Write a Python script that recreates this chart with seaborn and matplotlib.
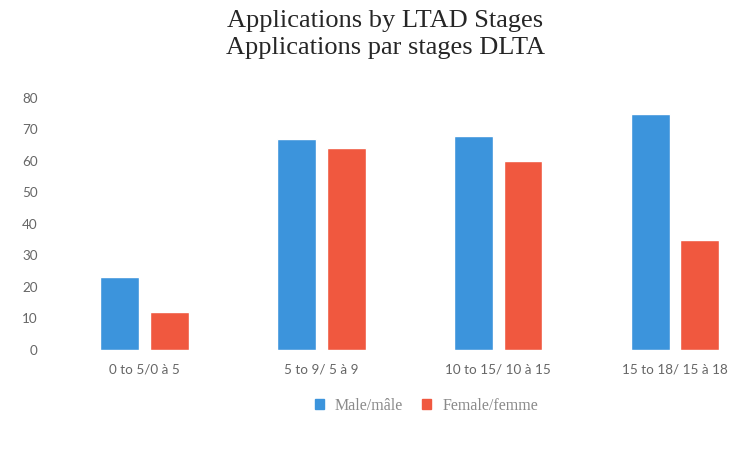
import pandas as pd
import seaborn as sns
import matplotlib.pyplot as plt

# Data
stages = ['0 to 5/0 à 5', '5 to 9/ 5 à 9', '10 to 15/ 10 à 15', '15 to 18/ 15 à 18']
male = [23, 67, 68, 75]
female = [12, 64, 60, 35]
series = ['Male/mâle', 'Female/femme']

df = pd.DataFrame({
    'stage': stages * 2,
    'count': male + female,
    'sex': [series[0]] * len(stages) + [series[1]] * len(stages),
})

sns.set_style('white')
plt.rcParams['font.family'] = ['Lato', 'DejaVu Sans']

fig = plt.figure(figsize=(7.44, 4.51), dpi=100)
ax = fig.add_axes([0.075, 0.224, 0.925, 0.559])

sns.barplot(data=df, x='stage', y='count', hue='sex', order=stages,
            palette=['#3C94DC', '#F0583F'], width=0.564, gap=0.22,
            saturation=1, legend=False, ax=ax)

ax.set_ylim(0, 80)
ax.set_yticks(range(0, 81, 10))
ax.set_xlim(-0.5, 3.39)
ax.set_xlabel('')
ax.set_ylabel('')
sns.despine(ax=ax, left=True, bottom=True)
ax.tick_params(axis='both', length=0, labelsize=9.7, labelcolor='#666666')
ax.tick_params(axis='y', pad=13)
ax.tick_params(axis='x', pad=10)

fig.text(0.518, 0.924, 'Applications by LTAD Stages\nApplications par stages DLTA',
         ha='center', va='center', fontsize=19, family='Liberation Serif',
         linespacing=1.32)

handles = [plt.Rectangle((0, 0), 1, 1, color=c) for c in ['#3C94DC', '#F0583F']]
fig.legend(handles, series, loc='center', bbox_to_anchor=(0.573, 0.1), ncol=2,
           frameon=False, handlelength=0.55, handleheight=0.55, columnspacing=1.2,
           handletextpad=0.7,
           prop={'family': 'Liberation Serif', 'size': 11.5}, labelcolor='#8a8a8a')

fig.savefig('out.png', dpi=100)
